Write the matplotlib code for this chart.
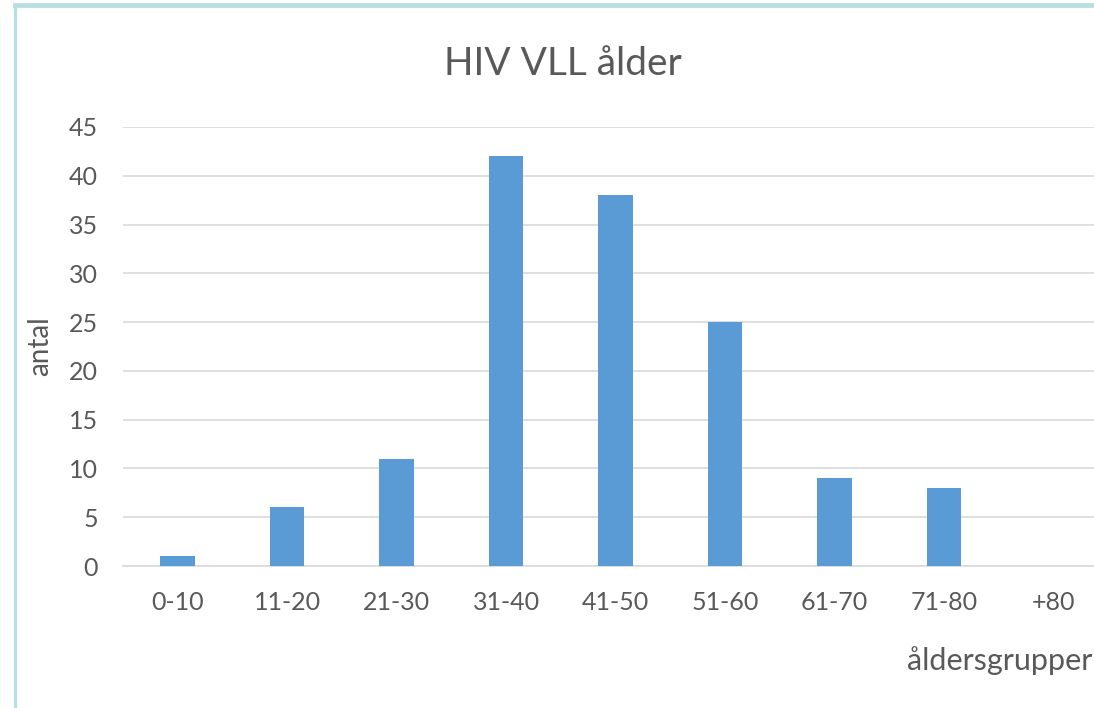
import matplotlib
matplotlib.use("Agg")
import matplotlib.pyplot as plt
from matplotlib.lines import Line2D

categories = ["0-10", "11-20", "21-30", "31-40", "41-50", "51-60", "61-70", "71-80", "+80"]
values = [1, 6, 11, 42, 38, 25, 9, 8, 0]
yticks = [0, 5, 10, 15, 20, 25, 30, 35, 40, 45]

plt.rcParams['font.family'] = ['Lato', 'DejaVu Sans']
W, H = 1094, 708
fig = plt.figure(figsize=(W / 100, H / 100), dpi=100)
fig.patch.set_facecolor('white')

# frame border (left and top)
fig.add_artist(Line2D([15 / W, 15 / W], [0, 1 - 5 / H], transform=fig.transFigure, color='#b7dfe2', lw=2.2))
fig.add_artist(Line2D([15 / W, 1], [1 - 5 / H, 1 - 5 / H], transform=fig.transFigure, color='#b7dfe2', lw=3.5))

left = 123 / W
right = 1108 / W
bottom = 1 - 566 / H
top = 1 - 127 / H
ax = fig.add_axes([left, bottom, right - left, top - bottom])
x = list(range(len(categories)))
ax.bar(x, values, width=0.315, color='#5b9bd5', zorder=3)
ax.set_xlim(-0.5, len(categories) - 0.5)
ax.set_ylim(0, 45)
ax.set_yticks(yticks)
ax.set_xticks(x)
ax.set_xticklabels(categories)
ax.grid(axis='y', color='#d9d9d9', lw=1.2, zorder=0)
for s in ['top', 'right', 'left']:
    ax.spines[s].set_visible(False)
ax.spines['bottom'].set_color('#d9d9d9')
ax.spines['bottom'].set_linewidth(1.2)
ax.tick_params(axis='both', length=0, labelsize=18, colors='#595959')
ax.tick_params(axis='y', pad=18)
ax.tick_params(axis='x', pad=18)
ax.set_axisbelow(True)

fig.text(563 / W, 1 - 75 / H, "HIV VLL ålder", ha='center', va='baseline', fontsize=28, color='#595959')
fig.text(40 / W, 1 - 346 / H, "antal", ha='center', va='center', rotation=90, fontsize=20, color='#595959')
fig.text(1092 / W, 1 - 670 / H, "åldersgrupper", ha='right', va='baseline', fontsize=22, color='#595959')

fig.savefig("out.png", dpi=100, facecolor='white')
